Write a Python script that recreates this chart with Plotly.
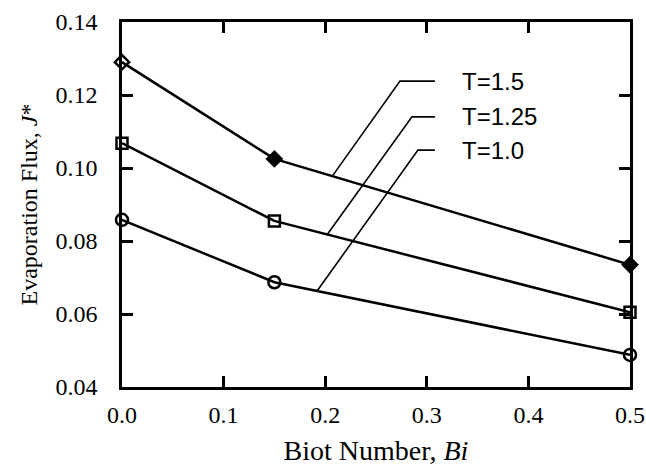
import numpy as np
import plotly.graph_objects as go

# ---- data ----
biot = [0.0, 0.15, 0.5]
flux_T15 = [0.129, 0.1025, 0.0735]
flux_T125 = [0.1068, 0.0855, 0.0605]
flux_T10 = [0.0858, 0.0687, 0.0488]
series_labels = ["T=1.5", "T=1.25", "T=1.0"]

x_ticks = [0.0, 0.1, 0.2, 0.3, 0.4, 0.5]
x_ticklabels = ["0.0", "0.1", "0.2", "0.3", "0.4", "0.5"]
y_ticks = [0.04, 0.06, 0.08, 0.10, 0.12, 0.14]
y_ticklabels = ["0.04", "0.06", "0.08", "0.10", "0.12", "0.14"]

# ---- label leader geometry (data coords) ----
leader_touch_x = [0.207, 0.202, 0.192]
leader_elbow = [(0.2736, 0.1238), (0.2854, 0.1140), (0.2913, 0.1049)]
leader_end_x = 0.308
label_text_x = 0.333

serif = "Liberation Serif, Times New Roman, serif"
sans = "Liberation Sans, Arial, sans-serif"

fig = go.Figure()

series = [flux_T15, flux_T125, flux_T10]
symbols = [["diamond-open", "diamond", "diamond"], "square-open", "circle-open"]
sizes = [11, 11, 12]
for vals, sym, sz, name in zip(series, symbols, sizes, series_labels):
    fig.add_trace(go.Scatter(
        x=biot, y=vals, mode="lines+markers", name=name,
        line=dict(color="black", width=2.5),
        marker=dict(symbol=sym, size=sz, color="black",
                    line=dict(color="black", width=2.5)),
        cliponaxis=False, showlegend=False,
    ))

shapes = []
annotations = []
for vals, tx, (ex, ey), lab in zip(series, leader_touch_x, leader_elbow, series_labels):
    ty = float(np.interp(tx, biot, vals))
    shapes.append(dict(type="path", xref="x", yref="y",
                       path=f"M {tx},{ty} L {ex},{ey} L {leader_end_x},{ey}",
                       line=dict(color="black", width=1.6)))
    annotations.append(dict(x=label_text_x, y=ey, xref="x", yref="y",
                            text=lab, showarrow=False, xanchor="left",
                            yanchor="middle",
                            font=dict(family=sans, size=24, color="black")))

fig.update_layout(
    width=646, height=466,
    margin=dict(l=122, r=16, t=22, b=79, autoexpand=False),
    paper_bgcolor="white", plot_bgcolor="white",
    shapes=shapes, annotations=annotations,
    font=dict(family=serif, color="black"),
)

axis_common = dict(
    showgrid=False, zeroline=False, showline=True, linecolor="black",
    linewidth=2.5, mirror="allticks", ticks="inside", ticklen=11,
    tickwidth=2.5, tickcolor="black", automargin=False,
    tickfont=dict(family=serif, size=24, color="black"),
)

fig.update_xaxes(
    range=[0, 0.5], tickvals=x_ticks, ticktext=x_ticklabels,
    ticklabelstandoff=4,
    title=dict(text="Biot Number, <i>Bi</i>", standoff=24,
               font=dict(family=serif, size=28, color="black")),
    **axis_common,
)
fig.update_yaxes(
    range=[0.04, 0.14], tickvals=y_ticks, ticktext=y_ticklabels,
    ticklabelstandoff=17,
    title=dict(text="Evaporation Flux, <i>J</i>*", standoff=12,
               font=dict(family=serif, size=24, color="black")),
    **axis_common,
)

# remove the default 8px page margin so the figure fills the window exactly
fig.write_html("out.html",
               config={"displayModeBar": False},
               post_script="document.body.style.margin='0';"
                           "document.body.style.overflow='hidden';")
